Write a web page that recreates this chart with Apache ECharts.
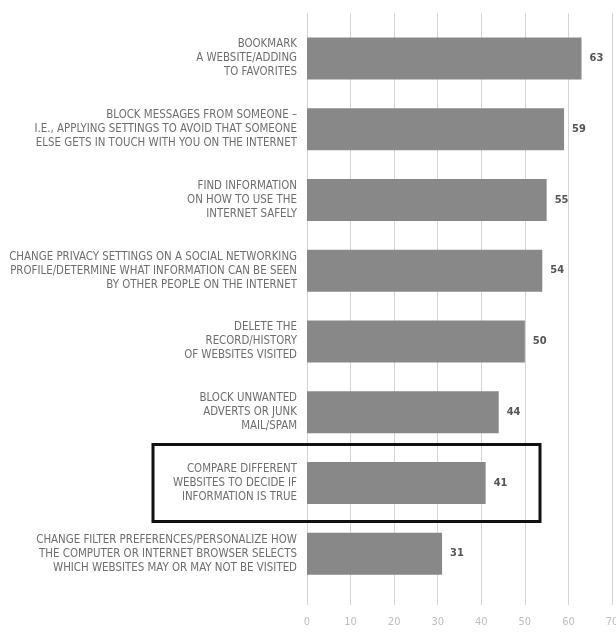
<!DOCTYPE html>
<html>
<head>
<meta charset="utf-8">
<script src="https://cdn.jsdelivr.net/npm/echarts@6/dist/echarts.min.js"></script>
<style>
  html, body { margin: 0; padding: 0; background: #fff; }
  #chart { width: 616px; height: 634px; }
</style>
</head>
<body>
<div id="chart"></div>
<script>
// Online skills, share of respondents (%)
const categories = [
  'BOOKMARK\nA WEBSITE/ADDING\nTO FAVORITES',
  'BLOCK MESSAGES FROM SOMEONE –\nI.E., APPLYING SETTINGS TO AVOID THAT SOMEONE\nELSE GETS IN TOUCH WITH YOU ON THE INTERNET',
  'FIND INFORMATION\nON HOW TO USE THE\nINTERNET SAFELY',
  'CHANGE PRIVACY SETTINGS ON A SOCIAL NETWORKING\nPROFILE/DETERMINE WHAT INFORMATION CAN BE SEEN\nBY OTHER PEOPLE ON THE INTERNET',
  'DELETE THE\nRECORD/HISTORY\nOF WEBSITES VISITED',
  'BLOCK UNWANTED\nADVERTS OR JUNK\nMAIL/SPAM',
  'COMPARE DIFFERENT\nWEBSITES TO DECIDE IF\nINFORMATION IS TRUE',
  'CHANGE FILTER PREFERENCES/PERSONALIZE HOW\nTHE COMPUTER OR INTERNET BROWSER SELECTS\nWHICH WEBSITES MAY OR MAY NOT BE VISITED'
];
const values = [63, 59, 55, 54, 50, 44, 41, 31];
const xTicks = [0, 10, 20, 30, 40, 50, 60, 70];
const highlightIndex = 6;

const FONT = '"Liberation Sans Narrow", "DejaVu Sans Condensed", "Roboto", sans-serif';
const xMin = xTicks[0], xMax = xTicks[xTicks.length - 1];
const step = xTicks[1] - xTicks[0];

const chart = echarts.init(document.getElementById('chart'), null, { renderer: 'canvas' });

chart.setOption({
  animation: false,
  backgroundColor: '#ffffff',
  grid: [
    // background grid carrying the vertical rules and tick labels
    { left: 307, right: 4, top: 13, bottom: 29, containLabel: false, outerBoundsMode: 'none' },
    // bars
    { left: 307, right: 4, top: 23, bottom: 45, containLabel: false, outerBoundsMode: 'none' }
  ],
  xAxis: [
    {
      gridIndex: 0, type: 'value', min: xMin, max: xMax, interval: step,
      axisLine: { show: false }, axisTick: { show: false },
      splitLine: { show: true, lineStyle: { color: '#d4d4d4', width: 1 } },
      axisLabel: { color: '#bdbdbd', fontFamily: FONT, fontSize: 11, margin: 12 }
    },
    {
      gridIndex: 1, type: 'value', min: xMin, max: xMax, interval: step,
      show: false
    }
  ],
  yAxis: [
    {
      gridIndex: 0, type: 'value', show: false
    },
    {
      gridIndex: 1, type: 'category', data: categories, inverse: true,
      axisLine: { show: false }, axisTick: { show: false },
      splitLine: { show: false },
      axisLabel: {
        color: '#6e6e6e', fontFamily: FONT, fontSize: 11.4, lineHeight: 14,
        margin: 10, align: 'right'
      }
    }
  ],
  series: [
    {
      type: 'bar', xAxisIndex: 1, yAxisIndex: 1,
      data: values, barWidth: 42,
      itemStyle: { color: '#888888' },
      label: {
        show: true, position: 'right', distance: 8,
        color: '#555555', fontFamily: FONT, fontSize: 11, fontWeight: 'bold'
      }
    }
  ]
});

// outline around the highlighted row
const cy = chart.convertToPixel({ yAxisIndex: 1 }, highlightIndex);
chart.setOption({
  graphic: [{
    type: 'rect',
    shape: { x: 153, y: cy - 38.5, width: 387, height: 77 },
    style: { fill: 'none', stroke: '#111111', lineWidth: 3 },
    z: 100
  }]
});
</script>
</body>
</html>
